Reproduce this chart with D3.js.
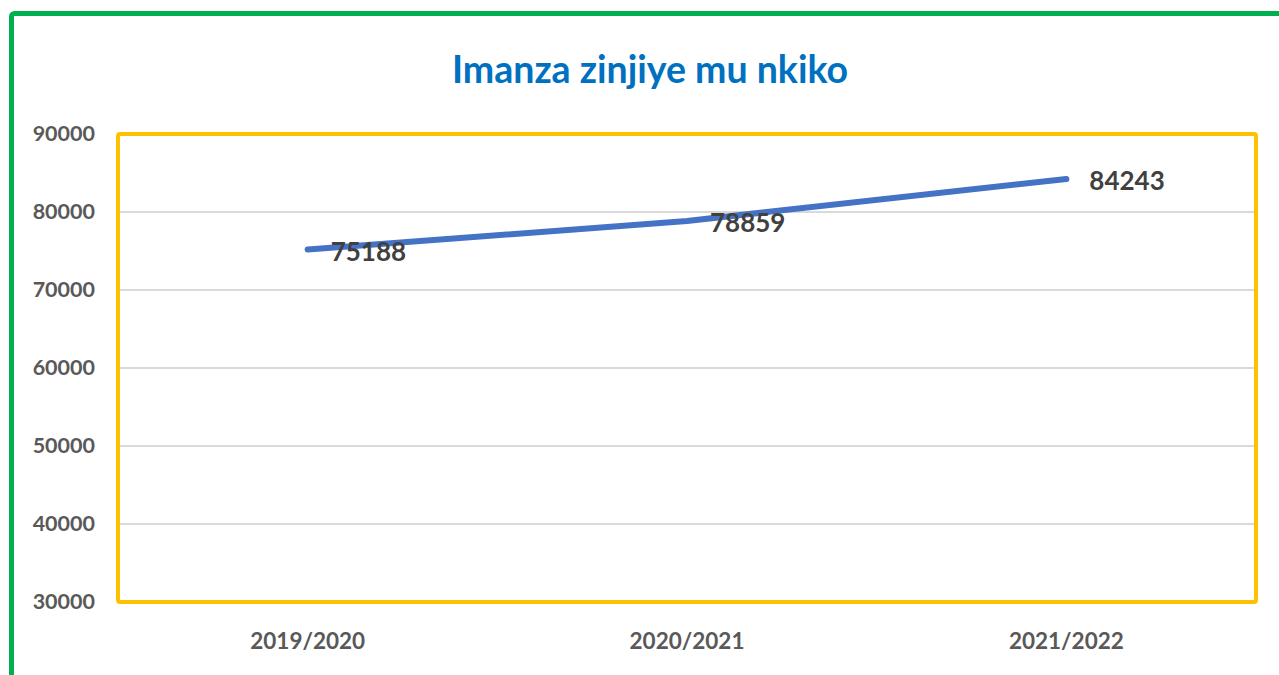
<!DOCTYPE html>
<html>
<head>
<meta charset="utf-8">
<script src="https://cdn.jsdelivr.net/npm/d3@7"></script>
<style>
  body { margin: 0; background: #fff; }
  svg { display: block; font-family: Lato, "Open Sans", sans-serif; }
</style>
</head>
<body>
<svg id="chart" width="1279" height="675"></svg>
<script>
// chart data
const years = ["2019/2020", "2020/2021", "2021/2022"];
const cases = [75188, 78859, 84243];
const yTicks = [30000, 40000, 50000, 60000, 70000, 80000, 90000];
const title = "Imanza zinjiye mu nkiko";

const width = 1279, height = 675;
const plot = { left: 118, right: 1256, top: 134, bottom: 602 };

let svg = d3.select("#chart");

// outer green frame (only top and left edges show)
svg.append("rect")
    .attr("x", 11.5).attr("y", 13.5)
    .attr("width", width + 20).attr("height", height + 20)
    .attr("rx", 3)
    .attr("fill", "none")
    .attr("stroke", "#00b050")
    .attr("stroke-width", 5);

let x = d3.scaleBand().domain(years).range([plot.left, plot.right]);
let y = d3.scaleLinear().domain([30000, 90000]).range([plot.bottom, plot.top]);

// title
svg.append("text")
    .attr("x", 650).attr("y", 70)
    .attr("dy", "0.35em")
    .attr("text-anchor", "middle")
    .attr("fill", "#0070c0")
    .attr("font-weight", "bold")
    .attr("font-size", 37.5)
    .text(title);

// gridlines
svg.append("g")
    .selectAll("line")
    .data(yTicks)
    .enter().append("line")
    .attr("x1", plot.left).attr("x2", plot.right)
    .attr("y1", d => y(d)).attr("y2", d => y(d))
    .attr("stroke", "#d9d9d9")
    .attr("stroke-width", 2);

// y axis labels
let yAxis = svg.append("g")
    .attr("transform", "translate(" + (plot.left - 23) + ",0)")
    .call(d3.axisLeft(y).tickValues(yTicks).tickSize(0).tickPadding(0).tickFormat(d3.format("d")));
yAxis.select(".domain").remove();
yAxis.selectAll("text")
    .attr("fill", "#595959")
    .attr("font-size", 21.5)
    .attr("font-weight", "bold")
    .attr("font-family", "Lato, sans-serif");

// x axis labels
let xAxis = svg.append("g")
    .attr("transform", "translate(0," + (plot.bottom + 31) + ")")
    .call(d3.axisBottom(x).tickSize(0).tickPadding(0));
xAxis.select(".domain").remove();
xAxis.selectAll("text")
    .attr("fill", "#595959")
    .attr("font-size", 22.5)
    .attr("font-weight", "bold")
    .attr("font-family", "Lato, sans-serif");

// yellow plot frame
svg.append("rect")
    .attr("x", plot.left).attr("y", plot.top)
    .attr("width", plot.right - plot.left)
    .attr("height", plot.bottom - plot.top)
    .attr("rx", 2)
    .attr("fill", "none")
    .attr("stroke", "#ffc000")
    .attr("stroke-width", 4);

// line
let line = d3.line()
    .x((d, i) => x(years[i]) + x.bandwidth() / 2)
    .y(d => y(d));

svg.append("path")
    .datum(cases)
    .attr("d", line)
    .attr("fill", "none")
    .attr("stroke", "#4472c4")
    .attr("stroke-width", 6)
    .attr("stroke-linecap", "round")
    .attr("stroke-linejoin", "round");

// data labels
svg.append("g")
    .selectAll("text")
    .data(cases)
    .enter().append("text")
    .attr("x", (d, i) => x(years[i]) + x.bandwidth() / 2 + 23)
    .attr("y", d => y(d) + 2)
    .attr("dy", "0.35em")
    .attr("fill", "#404040")
    .attr("font-size", 26)
    .attr("font-weight", "bold")
    .text(d => d);
</script>
</body>
</html>
